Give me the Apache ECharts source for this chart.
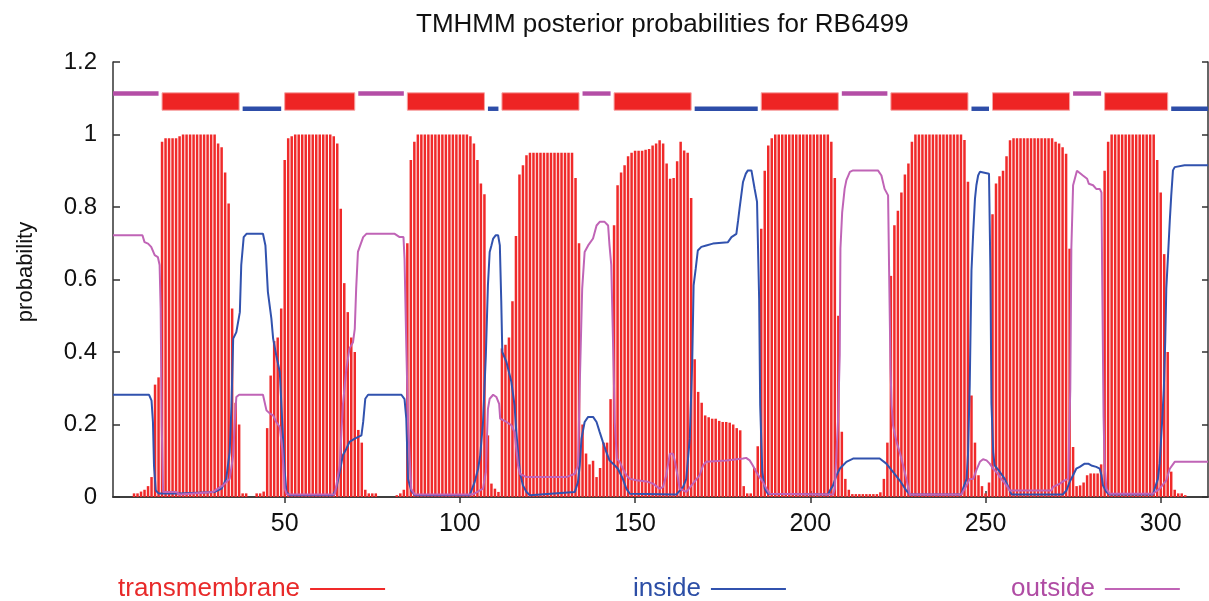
<!DOCTYPE html>
<html><head><meta charset="utf-8">
<script src="https://cdn.jsdelivr.net/npm/echarts@6/dist/echarts.min.js"></script>
<style>html,body{margin:0;padding:0;background:#fff}#c{width:1209px;height:601px}</style>
</head><body><div id="c"></div>
<script>
// ---------- data ----------
const chartTitle = 'TMHMM posterior probabilities for RB6499';
const yAxisTitle = 'probability';
const seriesNames = ['transmembrane', 'inside', 'outside'];
const xTickValues = [50, 100, 150, 200, 250, 300];
const seqStart = 1;
const seqEnd = 313.5;

// transmembrane posterior probability per residue (1..313)
const tmProb = [
  0,0,0,0,0,0,0.01,0.01,0.015,0.02,
  0.03,0.055,0.31,0.33,0.98,0.99,0.99,0.99,0.99,0.995,
  1,1,1,1,1,1,1,1,1,1,
  0.975,0.965,0.895,0.81,0.52,0.26,0.2,0.01,0.01,0,
  0,0.01,0.01,0.015,0.19,0.335,0.43,0.44,0.52,0.93,
  0.99,0.995,1,1,1,1,1,1,1,1,
  1,1,1,0.995,0.975,0.795,0.59,0.51,0.44,0.4,
  0.185,0.15,0.02,0.01,0.01,0.01,0,0,0,0,
  0,0.005,0.01,0.02,0.7,0.93,0.98,1,1,1,
  1,1,1,1,1,1,1,1,1,1,
  1,1,0.995,0.975,0.93,0.865,0.835,0.17,0.037,0.023,
  0.014,0.41,0.42,0.44,0.54,0.72,0.89,0.915,0.943,0.95,
  0.95,0.95,0.95,0.95,0.95,0.95,0.95,0.95,0.95,0.95,
  0.95,0.95,0.88,0.7,0.2,0.12,0.09,0.1,0.055,0.08,
  0.15,0.15,0.27,0.75,0.86,0.895,0.915,0.94,0.95,0.955,
  0.955,0.955,0.958,0.96,0.97,0.975,0.984,0.975,0.92,0.878,
  0.88,0.926,0.98,0.956,0.95,0.825,0.38,0.29,0.26,0.225,
  0.22,0.216,0.216,0.21,0.207,0.207,0.205,0.2,0.19,0.184,
  0.03,0.01,0.01,0.08,0.14,0.74,0.9,0.97,0.99,1,
  1,1,1,1,1,1,1,1,1,1,
  1,1,1,1,1,0.98,0.88,0.5,0.18,0.05,
  0.02,0.008,0.008,0.008,0.008,0.008,0.008,0.008,0.008,0.013,
  0.05,0.15,0.61,0.75,0.79,0.84,0.89,0.92,0.98,1,
  1,1,1,1,1,1,1,1,1,1,
  1,1,1,0.985,0.87,0.28,0.15,0.06,0.03,0.01,
  0.04,0.78,0.865,0.885,0.9,0.94,0.984,0.99,0.99,0.99,
  0.99,0.99,0.99,0.99,0.99,0.99,0.99,0.99,0.99,0.98,
  0.975,0.965,0.947,0.685,0.138,0.03,0.032,0.04,0.06,0.065,
  0.065,0.065,0.09,0.9,0.98,1,1,1,1,1,
  1,1,1,1,1,1,1,1,0.93,0.84,
  0.67,0.4,0.07,0.02,0.01,0.01,0.005,0,0,0,
  0,0,0
];

// inside probability curve (residue, probability)
const insideCurve = [
  [1,0.282],[11.3,0.282],[12,0.266],[12.4,0.207],[12.7,0.087],[13.2,0.018],[14,0.01],[20,0.01],
  [30,0.014],[32,0.023],[33.3,0.05],[34.3,0.124],[34.8,0.25],[35.3,0.437],[36.2,0.455],[37.2,0.51],
  [37.6,0.64],[38.3,0.717],[39.1,0.726],[43.8,0.726],[44.5,0.694],[45.2,0.566],[46.2,0.492],[46.7,0.437],
  [47.6,0.39],[48.6,0.345],[49.3,0.207],[50,0.07],[50.5,0.014],[51.4,0.005],[63.8,0.005],[64.7,0.023],
  [65.7,0.069],[66.6,0.115],[67.6,0.133],[68.5,0.152],[70,0.161],[71.9,0.17],[72.4,0.207],[73,0.271],
  [73.8,0.282],[83.3,0.282],[84.2,0.27],[84.7,0.216],[85.2,0.05],[86.1,0.018],[87.1,0.005],[102.8,0.005],
  [104.2,0.041],[105.2,0.078],[105.8,0.115],[106.6,0.207],[107.4,0.39],[108,0.584],[108.5,0.676],[109,0.694],
  [109.5,0.713],[110.2,0.722],[110.9,0.722],[111.4,0.694],[111.8,0.542],[112.1,0.4],[113.3,0.372],[114.7,0.317],
  [115.6,0.253],[116.1,0.179],[117.1,0.069],[118,0.032],[119,0.014],[120,0.005],[132.8,0.014],[133.7,0.041],
  [134.2,0.087],[134.7,0.161],[135.6,0.207],[136.6,0.221],[138,0.221],[139,0.207],[139.9,0.179],[140.8,0.152],
  [141.8,0.124],[142.7,0.101],[143.7,0.092],[145.1,0.078],[146.5,0.05],[147.5,0.023],[148.5,0.009],[161.8,0.007],
  [163.7,0.028],[164.6,0.05],[165.6,0.161],[166.3,0.372],[166.7,0.584],[167.3,0.63],[167.9,0.68],[168.9,0.69],
  [170.3,0.694],[172.2,0.699],[176.5,0.703],[177.5,0.717],[178.9,0.726],[179.4,0.763],[179.8,0.795],[180.8,0.869],
  [181.6,0.892],[182.2,0.901],[183.2,0.901],[184.1,0.851],[184.8,0.814],[185.4,0.547],[185.7,0.253],[186.3,0.069],
  [187,0.023],[187.9,0.009],[205.1,0.007],[205.6,0.018],[206.5,0.032],[207.5,0.06],[208.4,0.078],[210.3,0.097],
  [212.2,0.106],[219.8,0.106],[221.7,0.092],[223.6,0.069],[225.5,0.046],[227.4,0.018],[228.4,0.007],[243.1,0.007],
  [243.6,0.023],[244.6,0.05],[245,0.115],[245.5,0.308],[246,0.625],[246.5,0.731],[247,0.823],[247.4,0.86],
  [247.9,0.887],[248.4,0.897],[251,0.892],[251.4,0.625],[251.7,0.257],[252.2,0.124],[252.6,0.087],[254.1,0.069],
  [255.5,0.05],[256.5,0.028],[257.4,0.007],[272.1,0.007],[273.1,0.018],[274,0.041],[275,0.06],[275.9,0.078],
  [276.9,0.083],[278.3,0.092],[279.3,0.092],[280.2,0.087],[281.6,0.083],[282.6,0.078],[283.1,0.06],[283.5,0.032],
  [284.5,0.014],[285.4,0.007],[297.8,0.007],[298.3,0.023],[299.2,0.05],[299.7,0.092],[300.4,0.207],[300.9,0.299],
  [301.3,0.432],[301.6,0.575],[302.1,0.667],[302.6,0.763],[303,0.83],[303.5,0.901],[304,0.91],[306.8,0.915],
  [313.5,0.915]
];

// outside probability curve (residue, probability)
const outsideCurve = [
  [1,0.722],[9.4,0.722],[10,0.703],[11,0.699],[11.9,0.69],[12.9,0.667],[13.8,0.662],[14.3,0.64],
  [14.6,0.52],[14.9,0.2],[15.3,0.014],[19.1,0.014],[20,0.007],[29.5,0.014],[32.4,0.032],[34.3,0.05],
  [35.3,0.115],[35.7,0.2],[36.2,0.276],[37,0.282],[43.8,0.282],[44.8,0.239],[45.8,0.23],[46.7,0.225],
  [47.6,0.207],[48.6,0.193],[49.3,0.133],[50,0.023],[50.6,0.007],[64.3,0.007],[65.7,0.087],[66.6,0.253],
  [67.6,0.354],[68.5,0.41],[69.5,0.427],[70,0.464],[70.4,0.575],[70.9,0.676],[71.4,0.69],[72.4,0.717],
  [73.3,0.726],[81.4,0.726],[82.8,0.717],[83.9,0.717],[84.2,0.657],[84.7,0.418],[85.2,0.207],[86.1,0.023],
  [87.1,0.007],[103.7,0.007],[106.6,0.023],[107.4,0.069],[108,0.243],[108.5,0.271],[109.5,0.282],[110.4,0.276],
  [111.2,0.257],[111.5,0.216],[113.3,0.207],[114.7,0.198],[115.6,0.179],[116.6,0.087],[117.1,0.064],[119,0.055],
  [130.4,0.055],[132.8,0.064],[133.7,0.087],[134.2,0.308],[134.9,0.575],[135.6,0.676],[136.6,0.694],[138,0.713],
  [139,0.749],[139.9,0.759],[141.3,0.759],[142.3,0.749],[142.7,0.694],[143.2,0.64],[143.7,0.428],[144.2,0.207],
  [144.8,0.106],[145.6,0.097],[146.5,0.078],[147.5,0.06],[148.5,0.05],[150.4,0.046],[153.2,0.043],[155.1,0.037],
  [157,0.023],[158,0.028],[158.9,0.06],[159.9,0.119],[160.8,0.119],[161.3,0.101],[162.2,0.055],[162.7,0.023],
  [164.6,0.014],[166.5,0.037],[168.4,0.06],[169.4,0.087],[170.3,0.097],[176,0.101],[180.8,0.106],[181.7,0.108],
  [182.7,0.101],[183.6,0.087],[184.6,0.069],[185.5,0.055],[186.5,0.041],[187.5,0.023],[188.4,0.009],[206.5,0.007],
  [207,0.023],[207.5,0.129],[207.9,0.207],[208.4,0.391],[208.6,0.685],[209.1,0.786],[209.8,0.85],[210.3,0.874],
  [211.3,0.897],[212.2,0.901],[219.3,0.901],[220.3,0.887],[221.2,0.85],[222.2,0.832],[222.5,0.62],[222.9,0.354],
  [223.2,0.253],[223.6,0.198],[224.6,0.152],[225.5,0.124],[226.5,0.087],[227.4,0.05],[228.4,0.007],[243.1,0.007],
  [244.6,0.032],[245.5,0.05],[246.5,0.05],[247.4,0.074],[248.4,0.097],[249.3,0.104],[250.3,0.101],[251.2,0.092],
  [252.2,0.078],[253.1,0.069],[254.5,0.05],[256,0.032],[256.9,0.018],[268.8,0.018],[269.3,0.028],[271.2,0.037],
  [272.6,0.046],[273.6,0.05],[274.2,0.299],[274.5,0.685],[275,0.86],[276.1,0.9],[277.8,0.887],[279,0.878],
  [279.5,0.864],[280.7,0.86],[281.6,0.85],[282.6,0.85],[283.1,0.84],[283.3,0.612],[283.7,0.22],[284,0.087],
  [284.5,0.023],[285.4,0.009],[297.8,0.009],[299.7,0.023],[301.6,0.046],[302.6,0.078],[304,0.097],[313.5,0.097]
];

// predicted topology segments [start, end]
const tmSegments = [[15,37],[50,70],[85,107],[112,134],[144,166],[186,208],[223,245],[252,274],[284,302]];
const insideSegments = [[38,49],[108,111],[167,185],[246,251],[303,313.5]];
const outsideSegments = [[1,14],[71,84],[135,143],[209,222],[275,283]];

// ---------- chart ----------
const FONT = '"Liberation Sans", Arial, Helvetica, sans-serif';
const C_TM = '#ee2424', C_IN = '#3152ae', C_OUT = '#c064b6';

const topoData = []
  .concat(insideSegments.map(s => [s[0], s[1], 0]))
  .concat(outsideSegments.map(s => [s[0], s[1], 1]))
  .concat(tmSegments.map(s => [s[0], s[1], 2]));

function renderTopo(params, api) {
  const s = api.value(0), e = api.value(1), k = api.value(2);
  if (k === 2) {
    const a = api.coord([s, 1.115]), b = api.coord([e, 1.067]);
    return { type: 'rect', shape: { x: a[0], y: a[1], width: b[0] - a[0], height: b[1] - a[1] },
             style: { fill: C_TM, stroke: '#f7a3a3', lineWidth: 1 } };
  }
  const yc = k === 0 ? 1.071 : 1.113;
  const a = api.coord([s, yc]), b = api.coord([e, yc]);
  return { type: 'rect', shape: { x: a[0], y: a[1] - 2.2, width: b[0] - a[0], height: 4.4 },
           style: { fill: k === 0 ? '#2d4da8' : '#b44ea6' } };
}

const axisLineStyle = { show: true, lineStyle: { color: '#333', width: 1.5 } };
const legendBase = {
  orient: 'horizontal', align: 'right', icon: 'rect', itemWidth: 75, itemHeight: 2, top: 571,
  selectedMode: false
};

const chart = echarts.init(document.getElementById('c'), null, { renderer: 'canvas' });
chart.setOption({
  animation: false,
  backgroundColor: '#fff',
  title: {
    text: chartTitle, left: 411, top: 7,
    textStyle: { fontFamily: FONT, fontSize: 26, fontWeight: 'normal', color: '#111' }
  },
  graphic: [{
    type: 'text', x: 26, y: 272, rotation: Math.PI / 2,
    style: { text: yAxisTitle, font: '22px ' + FONT, fill: '#111', align: 'center', verticalAlign: 'middle' }
  }],
  legend: [
    Object.assign({}, legendBase, { data: [seriesNames[0]], left: 113,
      textStyle: { fontFamily: FONT, fontSize: 26, color: '#e82a2a', padding: [0, 5, 0, 0] } }),
    Object.assign({}, legendBase, { data: [seriesNames[1]], left: 628,
      textStyle: { fontFamily: FONT, fontSize: 26, color: '#2c4ea6', padding: [0, 5, 0, 0] } }),
    Object.assign({}, legendBase, { data: [seriesNames[2]], left: 1006,
      textStyle: { fontFamily: FONT, fontSize: 26, color: '#b04ca4', padding: [0, 5, 0, 0] } })
  ],
  grid: { left: 113, right: 1, top: 62, bottom: 104, containLabel: false },
  xAxis: [{
    type: 'value', min: seqStart, max: seqEnd, position: 'bottom',
    axisLine: axisLineStyle, splitLine: { show: false },
    axisTick: { show: true, inside: true, length: 6, customValues: xTickValues, lineStyle: { color: '#333', width: 1.5 } },
    axisLabel: { show: true, customValues: xTickValues, margin: 15, fontFamily: FONT, fontSize: 25, color: '#111' }
  }, {
    type: 'value', min: seqStart, max: seqEnd, position: 'top',
    axisLine: axisLineStyle, splitLine: { show: false },
    axisTick: { show: true, inside: true, length: 6, customValues: xTickValues, lineStyle: { color: '#333', width: 1.5 } },
    axisLabel: { show: false }
  }],
  yAxis: [{
    type: 'value', min: 0, max: 1.2, interval: 0.2, position: 'left',
    axisLine: axisLineStyle, splitLine: { show: false },
    axisTick: { show: true, inside: true, length: 7, lineStyle: { color: '#333', width: 1.5 } },
    axisLabel: { margin: 16, fontFamily: FONT, fontSize: 24, color: '#111',
                 formatter: v => String(Math.round(v * 10) / 10) }
  }, {
    type: 'value', min: 0, max: 1.2, interval: 0.2, position: 'right',
    axisLine: axisLineStyle, splitLine: { show: false },
    axisTick: { show: true, inside: true, length: 6, lineStyle: { color: '#333', width: 1.5 } },
    axisLabel: { show: false }
  }],
  series: [{
    name: seriesNames[0], type: 'bar', xAxisIndex: 0, yAxisIndex: 0,
    data: tmProb.map((v, i) => [i + 1, v]),
    barWidth: 2.5, itemStyle: { color: '#f02a2a' }, z: 2
  }, {
    name: seriesNames[1], type: 'line', xAxisIndex: 0, yAxisIndex: 0,
    data: insideCurve, showSymbol: false, symbol: 'none',
    lineStyle: { color: C_IN, width: 2 }, itemStyle: { color: C_IN }, z: 3
  }, {
    name: seriesNames[2], type: 'line', xAxisIndex: 0, yAxisIndex: 0,
    data: outsideCurve, showSymbol: false, symbol: 'none',
    lineStyle: { color: C_OUT, width: 2 }, itemStyle: { color: C_OUT }, z: 3
  }, {
    name: 'topology', type: 'custom', xAxisIndex: 0, yAxisIndex: 0,
    renderItem: renderTopo, data: topoData, encode: { x: [0, 1], y: 2 }, z: 4
  }]
});
</script>
</body></html>
